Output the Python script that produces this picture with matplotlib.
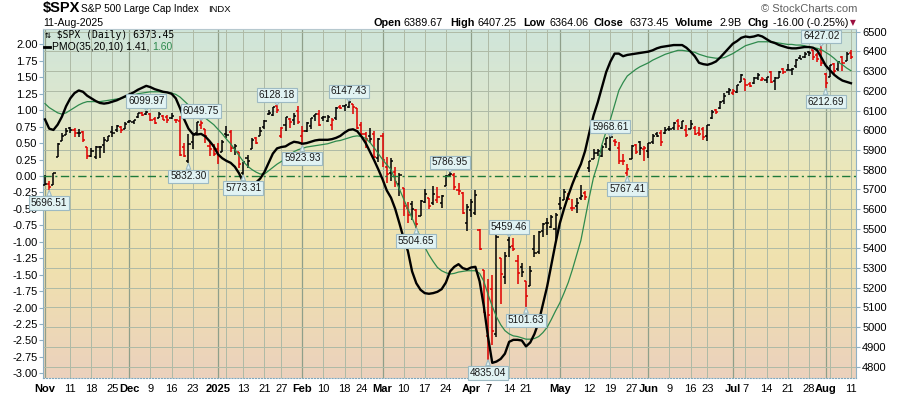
import numpy as np
import matplotlib.pyplot as plt
from matplotlib.colors import LinearSegmentedColormap
from matplotlib.lines import Line2D

plt.rcParams['font.family'] = ['Liberation Sans', 'DejaVu Sans']

# trading days on the chart
trade_days = {
    (2024, 11): [1, 4, 5, 6, 7, 8, 11, 12, 13, 14, 15, 18, 19, 20, 21, 22, 25, 26, 27, 29],
    (2024, 12): [2, 3, 4, 5, 6, 9, 10, 11, 12, 13, 16, 17, 18, 19, 20, 23, 24, 26, 27, 30, 31],
    (2025, 1): [2, 3, 6, 7, 8, 10, 13, 14, 15, 16, 17, 21, 22, 23, 24, 27, 28, 29, 30, 31],
    (2025, 2): [3, 4, 5, 6, 7, 10, 11, 12, 13, 14, 18, 19, 20, 21, 24, 25, 26, 27, 28],
    (2025, 3): [3, 4, 5, 6, 7, 10, 11, 12, 13, 14, 17, 18, 19, 20, 21, 24, 25, 26, 27, 28, 31],
    (2025, 4): [1, 2, 3, 4, 7, 8, 9, 10, 11, 14, 15, 16, 17, 21, 22, 23, 24, 25, 28, 29, 30],
    (2025, 5): [1, 2, 5, 6, 7, 8, 9, 12, 13, 14, 15, 16, 19, 20, 21, 22, 23, 27, 28, 29, 30],
    (2025, 6): [2, 3, 4, 5, 6, 9, 10, 11, 12, 13, 16, 17, 18, 20, 23, 24, 25, 26, 27, 30],
    (2025, 7): [1, 2, 3, 7, 8, 9, 10, 11, 14, 15, 16, 17, 18, 21, 22, 23, 24, 25, 28, 29, 30, 31],
    (2025, 8): [1, 4, 5, 6, 7, 8, 11],
}
dates = [f"{y}-{m:02d}-{d:02d}" for (y, m), days in trade_days.items() for d in days]

opens = [
    5723.2, 5725.2, 5722.4, 5864.9, 5947.2, 5976.8, 6008.9, 6003.6, 5985.8, 5989.6, 5912.8, 5869.0, 5864.0, 5914.0, 5925.3, 5944.0, 5992.3, 6000.0, 6014.1, 6003.9,
    6040.1, 6042.0, 6069.4, 6089.3, 6081.4, 6083.0, 6057.6, 6060.2, 6074.3, 6068.2, 6063.8, 6052.6, 6047.6, 5912.7, 5842.0, 5940.3, 5984.7, 6024.9, 6006.2, 5920.7, 5919.7,
    5903.3, 5891.1, 5982.8, 5993.3, 5910.7, 5890.7, 5782.3, 5859.1, 5905.2, 5961.9, 5969.7, 6014.1, 6081.4, 6076.3, 6121.4, 5969.0, 6026.0, 6057.7, 6050.8, 6096.8,
    5969.7, 5998.1, 6020.5, 6072.2, 6083.1, 6059.7, 6049.3, 6025.1, 6060.6, 6115.5, 6121.6, 6117.8, 6134.5, 6114.1, 6026.7, 5982.7, 5970.9, 5981.9, 5856.7,
    5968.3, 5811.9, 5781.4, 5785.9, 5726.0, 5705.4, 5603.7, 5624.8, 5594.5, 5563.9, 5635.6, 5654.5, 5632.4, 5646.9, 5630.7, 5718.1, 5775.1, 5771.7, 5695.6, 5679.1, 5527.9,
    5597.5, 5580.8, 5492.7, 5292.1, 4953.8, 5193.6, 4965.3, 5353.2, 5255.6, 5441.0, 5411.9, 5335.8, 5305.5, 5232.9, 5207.7, 5395.9, 5381.4, 5489.7, 5529.0, 5508.9, 5499.4,
    5625.1, 5645.0, 5655.3, 5605.9, 5614.3, 5655.7, 5679.6, 5807.0, 5854.0, 5884.1, 5869.6, 5929.1, 5902.9, 5944.7, 5910.4, 5841.3, 5781.9, 5854.1, 5925.5, 5939.9, 5903.7,
    5896.7, 5938.6, 5978.9, 5985.7, 5987.1, 6004.6, 6009.9, 6049.4, 6009.9, 6000.6, 6004.0, 6012.1, 5987.9, 6004.2, 5969.7, 6061.2, 6104.2, 6112.1, 6150.7, 6193.4,
    6187.3, 6193.6, 6246.5, 6259.4, 6237.0, 6238.0, 6264.4, 6255.7, 6255.2, 6295.3, 6248.1, 6263.9, 6313.3, 6304.7, 6306.6, 6326.9, 6368.6, 6370.0, 6397.7, 6409.4, 6381.3, 6407.3,
    6287.3, 6271.7, 6336.2, 6309.8, 6374.3, 6351.0, 6389.67,
]
highs = [
    5772.1, 5741.4, 5783.4, 5936.1, 5983.8, 6012.5, 6017.3, 6009.9, 6008.2, 5993.9, 5915.4, 5908.1, 5920.0, 5920.7, 5963.5, 5972.9, 6020.8, 6025.4, 6020.2, 6044.2,
    6053.6, 6052.0, 6089.8, 6092.5, 6099.97, 6088.5, 6065.4, 6092.6, 6079.7, 6078.6, 6085.2, 6057.7, 6070.7, 5935.5, 5982.1, 5978.3, 6040.1, 6049.75, 6006.2, 5940.8, 5929.7,
    5935.1, 5949.3, 6021.0, 6000.7, 5927.9, 5890.7, 5838.7, 5871.9, 5960.6, 5964.7, 6014.0, 6051.5, 6100.8, 6118.7, 6128.18, 6017.2, 6069.1, 6062.8, 6086.6, 6120.9,
    6022.1, 6042.5, 6062.9, 6084.0, 6101.3, 6073.4, 6076.3, 6063.6, 6116.9, 6127.5, 6129.6, 6147.43, 6134.5, 6114.8, 6043.7, 5992.7, 6009.8, 5993.7, 5959.4,
    5986.1, 5865.1, 5860.6, 5812.1, 5783.0, 5705.4, 5636.3, 5642.2, 5597.8, 5645.3, 5703.5, 5654.5, 5715.3, 5711.2, 5670.8, 5775.1, 5786.95, 5783.6, 5732.3, 5685.9, 5627.6,
    5650.6, 5695.3, 5499.5, 5292.1, 5246.6, 5267.5, 5481.3, 5353.2, 5381.5, 5459.46, 5450.4, 5367.2, 5328.3, 5232.9, 5309.6, 5469.7, 5489.4, 5528.1, 5553.7, 5571.9, 5581.8,
    5658.9, 5700.7, 5683.7, 5649.7, 5654.4, 5720.1, 5691.7, 5844.2, 5906.6, 5906.6, 5924.2, 5958.6, 5968.61, 5953.1, 5938.4, 5878.1, 5829.5, 5924.3, 5929.0, 5943.1, 5922.1,
    5937.4, 5981.4, 5990.5, 5999.7, 6016.9, 6021.3, 6043.0, 6059.4, 6045.4, 6026.2, 6050.8, 6023.3, 6018.2, 6018.2, 6028.8, 6101.8, 6108.5, 6146.5, 6187.7, 6215.1,
    6210.8, 6227.6, 6284.7, 6262.3, 6242.7, 6269.2, 6290.2, 6269.6, 6272.3, 6302.0, 6269.0, 6302.7, 6315.6, 6336.1, 6316.1, 6360.6, 6381.3, 6395.8, 6401.1, 6409.4, 6389.8, 6427.02,
    6288.5, 6329.9, 6343.7, 6352.8, 6379.3, 6395.2, 6407.25,
]
lows = [
    5723.2, 5696.51, 5722.1, 5864.9, 5947.2, 5976.8, 5986.7, 5966.8, 5965.9, 5942.3, 5853.0, 5865.9, 5854.0, 5860.6, 5883.0, 5944.0, 5963.9, 5992.3, 5984.9, 6003.9,
    6035.3, 6033.4, 6061.1, 6070.1, 6079.0, 6048.6, 6029.9, 6060.2, 6051.2, 6035.8, 6059.1, 6035.2, 5867.8, 5866.1, 5832.3, 5902.6, 5981.4, 6007.4, 5932.9, 5869.2, 5868.9,
    5829.5, 5888.7, 5960.0, 5890.7, 5874.8, 5809.2, 5773.31, 5805.9, 5905.2, 5930.8, 5969.7, 6006.9, 6076.3, 6074.7, 6088.7, 5962.9, 5994.2, 6012.9, 6027.5, 6030.9,
    5923.93, 5990.9, 6007.1, 6046.8, 6019.9, 6048.0, 6042.3, 6003.0, 6051.0, 6107.6, 6099.5, 6111.2, 6084.6, 6008.6, 5977.8, 5908.5, 5932.7, 5858.8, 5837.7,
    5810.9, 5732.6, 5742.4, 5711.6, 5666.3, 5564.0, 5528.4, 5546.1, 5504.65, 5563.9, 5631.1, 5597.8, 5622.2, 5632.6, 5603.1, 5718.1, 5764.8, 5694.4, 5670.9, 5572.4, 5488.7,
    5558.5, 5571.5, 5390.8, 5069.9, 4835.04, 4910.4, 4948.4, 5115.3, 5220.8, 5358.0, 5386.4, 5220.8, 5255.6, 5101.63, 5207.7, 5356.0, 5371.9, 5455.9, 5468.6, 5505.7, 5433.2,
    5597.4, 5645.0, 5644.6, 5590.0, 5578.6, 5646.3, 5644.6, 5786.1, 5853.0, 5867.2, 5865.2, 5907.4, 5895.7, 5919.0, 5830.9, 5825.8, 5767.41, 5854.1, 5881.1, 5873.8, 5843.7,
    5861.4, 5929.0, 5966.1, 5921.2, 5978.6, 5994.2, 6000.3, 6002.3, 6003.9, 5963.2, 6004.0, 5974.8, 5971.9, 5952.6, 5943.2, 6058.2, 6080.1, 6107.5, 6132.4, 6177.4,
    6177.9, 6190.7, 6246.5, 6201.4, 6217.5, 6236.0, 6253.7, 6250.9, 6242.3, 6241.9, 6201.8, 6263.9, 6285.9, 6303.8, 6281.7, 6317.5, 6360.6, 6368.5, 6375.7, 6358.7, 6346.1, 6327.1,
    6212.69, 6271.7, 6281.8, 6301.1, 6300.7, 6350.7, 6364.06,
]
closes = [
    5728.8, 5712.7, 5782.8, 5929.0, 5973.1, 5995.5, 6001.4, 5984.0, 5985.4, 5949.2, 5870.6, 5893.6, 5917.0, 5917.1, 5948.7, 5969.3, 5987.4, 6021.6, 5998.7, 6032.4,
    6047.2, 6049.9, 6086.5, 6075.1, 6090.3, 6052.9, 6034.9, 6084.2, 6051.3, 6051.1, 6074.1, 6050.6, 5872.2, 5867.1, 5930.9, 5974.1, 6040.0, 6037.6, 5970.8, 5906.9, 5881.6,
    5868.6, 5942.5, 5975.4, 5909.0, 5918.3, 5827.0, 5836.2, 5842.9, 5949.9, 5937.3, 5996.7, 6049.2, 6086.4, 6118.7, 6101.2, 6012.3, 6067.7, 6039.3, 6071.2, 6040.5,
    5994.6, 6037.9, 6061.5, 6083.6, 6026.0, 6066.4, 6068.5, 6052.0, 6115.1, 6114.6, 6129.6, 6144.2, 6117.5, 6013.1, 5983.3, 5955.3, 5956.1, 5861.6, 5954.5,
    5849.7, 5778.2, 5842.6, 5738.5, 5770.2, 5614.6, 5572.1, 5599.3, 5521.5, 5638.9, 5675.1, 5614.7, 5675.3, 5662.9, 5667.6, 5767.6, 5776.7, 5712.2, 5693.3, 5580.9, 5611.9,
    5633.1, 5671.0, 5396.5, 5074.1, 5062.3, 4982.8, 5456.9, 5268.1, 5363.4, 5406.0, 5396.6, 5275.7, 5282.7, 5158.2, 5287.8, 5375.9, 5484.8, 5525.2, 5528.8, 5560.8, 5569.1,
    5604.1, 5686.7, 5650.4, 5606.9, 5631.3, 5663.9, 5659.9, 5844.2, 5886.6, 5892.6, 5916.9, 5958.4, 5963.6, 5940.5, 5844.6, 5842.0, 5802.8, 5921.5, 5888.6, 5912.2, 5911.7,
    5935.9, 5970.4, 5970.8, 5939.3, 6000.4, 6005.9, 6038.8, 6022.2, 6045.3, 5977.0, 6033.1, 5982.7, 5980.9, 5967.8, 6025.2, 6092.18, 6092.16, 6141.0, 6173.1, 6205.0,
    6198.0, 6227.4, 6279.4, 6230.0, 6225.5, 6263.3, 6280.5, 6259.8, 6268.6, 6243.8, 6263.7, 6297.4, 6296.8, 6305.6, 6309.6, 6358.9, 6363.4, 6388.6, 6389.8, 6370.9, 6362.9, 6339.4,
    6238.0, 6329.9, 6299.2, 6345.1, 6340.0, 6389.5, 6373.45,
]

# PMO(35,20,10) and its signal line
pmo = [
    0.86, 0.72, 0.70, 0.78, 0.90, 1.06, 1.18, 1.26, 1.30, 1.28,
    1.22, 1.18, 1.14, 1.11, 1.10, 1.11, 1.13, 1.15, 1.18, 1.21,
    1.24, 1.27, 1.31, 1.34, 1.37, 1.35, 1.32, 1.30, 1.28, 1.27,
    1.25, 1.18, 1.03, 0.86, 0.72, 0.64, 0.63, 0.64, 0.60, 0.53,
    0.45, 0.33, 0.27, 0.23, 0.20, 0.14, 0.04, -0.10, -0.18, -0.17,
    -0.10, -0.04, 0.06, 0.20, 0.34, 0.42, 0.44, 0.45, 0.49, 0.52,
    0.51, 0.49, 0.50, 0.52, 0.54, 0.55, 0.55, 0.55, 0.56, 0.58,
    0.61, 0.66, 0.70, 0.71, 0.68, 0.60, 0.50, 0.37, 0.24, 0.10,
    -0.05, -0.22, -0.33, -0.50, -0.72, -0.95, -1.14, -1.45, -1.63, -1.73,
    -1.78, -1.79, -1.78, -1.76, -1.72, -1.62, -1.45, -1.38, -1.34, -1.40,
    -1.42, -1.39, -1.38, -1.60, -1.98, -2.45, -2.84, -2.82, -2.78, -2.70,
    -2.52, -2.49, -2.49, -2.50, -2.59, -2.53, -2.40, -2.22, -1.95, -1.68,
    -1.35, -1.02, -0.72, -0.50, -0.30, -0.12, 0.04, 0.18, 0.38, 0.66,
    0.92, 1.12, 1.35, 1.58, 1.74, 1.86, 1.86, 1.82, 1.84, 1.85,
    1.86, 1.87, 1.88, 1.89, 1.91, 1.94, 1.96, 1.97, 1.98, 1.99,
    1.99, 1.99, 1.95, 1.89, 1.82, 1.72, 1.70, 1.69, 1.71, 1.74,
    1.80, 1.87, 1.94, 2.01, 2.05, 2.10, 2.12, 2.11, 2.12, 2.14,
    2.12, 2.08, 2.04, 2.02, 1.99, 1.97, 1.95, 1.94, 1.94, 1.95,
    1.96, 1.96, 1.95, 1.91, 1.80, 1.68, 1.61, 1.54, 1.49, 1.45,
    1.43, 1.41,
]
pmo_signal = [
    1.10, 1.04, 1.00, 0.96, 0.94, 0.96, 1.00, 1.04, 1.08, 1.11,
    1.13, 1.13, 1.13, 1.13, 1.14, 1.15, 1.16, 1.17, 1.18, 1.20,
    1.21, 1.23, 1.25, 1.26, 1.27, 1.28, 1.28, 1.28, 1.27, 1.27,
    1.26, 1.24, 1.20, 1.14, 1.08, 1.03, 0.99, 0.94, 0.88, 0.83,
    0.78, 0.71, 0.64, 0.56, 0.49, 0.40, 0.31, 0.22, 0.15, 0.10,
    0.06, 0.03, 0.03, 0.08, 0.13, 0.18, 0.22, 0.27, 0.32, 0.37,
    0.40, 0.42, 0.44, 0.45, 0.46, 0.47, 0.48, 0.49, 0.51, 0.53,
    0.54, 0.56, 0.58, 0.60, 0.61, 0.60, 0.57, 0.51, 0.43, 0.34,
    0.25, 0.17, 0.10, -0.06, -0.20, -0.35, -0.50, -0.64, -0.79, -0.94,
    -1.08, -1.20, -1.30, -1.39, -1.44, -1.47, -1.49, -1.48, -1.46, -1.45,
    -1.44, -1.44, -1.44, -1.48, -1.60, -1.80, -1.98, -2.14, -2.26, -2.35,
    -2.40, -2.43, -2.44, -2.46, -2.48, -2.48, -2.47, -2.44, -2.38, -2.30,
    -2.18, -2.05, -1.93, -1.78, -1.62, -1.42, -1.20, -0.98, -0.65, -0.32,
    -0.02, 0.18, 0.48, 0.68, 0.86, 1.08, 1.30, 1.42, 1.52, 1.57,
    1.62, 1.66, 1.69, 1.72, 1.76, 1.79, 1.82, 1.85, 1.87, 1.89,
    1.91, 1.91, 1.90, 1.89, 1.88, 1.85, 1.83, 1.81, 1.80, 1.79,
    1.79, 1.80, 1.83, 1.86, 1.90, 1.94, 1.98, 2.00, 2.02, 2.04,
    2.04, 2.04, 2.04, 2.03, 2.02, 2.01, 2.00, 2.00, 1.99, 1.99,
    1.98, 1.96, 1.95, 1.94, 1.92, 1.88, 1.84, 1.79, 1.73, 1.69,
    1.64, 1.60,
]

# x-axis labels
tick_dates = ["2024-11-01", "2024-11-11", "2024-11-18", "2024-11-25", "2024-12-02", "2024-12-09",
              "2024-12-16", "2024-12-23", "2025-01-02", "2025-01-13", "2025-01-21", "2025-01-27",
              "2025-02-03", "2025-02-10", "2025-02-18", "2025-02-24", "2025-03-03", "2025-03-10",
              "2025-03-17", "2025-03-24", "2025-04-01", "2025-04-07", "2025-04-14", "2025-04-21",
              "2025-05-01", "2025-05-12", "2025-05-19", "2025-05-27", "2025-06-02", "2025-06-09",
              "2025-06-16", "2025-06-23", "2025-07-01", "2025-07-07", "2025-07-14", "2025-07-21",
              "2025-07-28", "2025-08-01", "2025-08-11"]
tick_texts = ["Nov", "11", "18", "25", "Dec", "9", "16", "23", "2025", "13", "21", "27",
              "Feb", "10", "18", "24", "Mar", "10", "17", "24", "Apr", "7", "14", "21",
              "May", "12", "19", "27", "Jun", "9", "16", "23", "Jul", "7", "14", "21", "28",
              "Aug", "11"]
unlabeled_weeks = ["2025-01-06", "2025-04-28", "2025-08-04"]

# high / low callouts
ann_dates = ["2024-11-04", "2024-12-06", "2024-12-20", "2024-12-26", "2025-01-13", "2025-01-24",
             "2025-02-03", "2025-02-19", "2025-03-13", "2025-03-25", "2025-04-07", "2025-04-14",
             "2025-04-21", "2025-05-19", "2025-05-23", "2025-07-31", "2025-08-01"]
ann_values = [5696.51, 6099.97, 5832.30, 6049.75, 5773.31, 6128.18, 5923.93, 6147.43, 5504.65,
              5786.95, 4835.04, 5459.46, 5101.63, 5968.61, 5767.41, 6427.02, 6212.69]
ann_side = ["low", "high", "low", "high", "low", "high", "low", "high", "low",
            "high", "low", "high", "low", "high", "low", "high", "low"]

x = np.arange(len(dates))
bar_colors = ['black'] + ['black' if closes[k] >= closes[k - 1] else '#e00000'
                          for k in range(1, len(closes))]

fig = plt.figure(figsize=(9, 3.96), dpi=100)
ax = fig.add_axes([43 / 900, 18 / 396, 813 / 900, 349 / 396])

bg = LinearSegmentedColormap.from_list(
    'bg', [(0, '#cfe5da'), (0.2, '#dce7cf'), (0.43, '#eee8b7'), (0.68, '#f0e1ae'), (1, '#ebd1bd')])
ax.imshow(np.linspace(0, 1, 256).reshape(-1, 1), cmap=bg, aspect='auto', extent=[0, 1, 0, 1],
          transform=ax.transAxes, origin='upper', zorder=0)

ax.set_xlim(-0.47, 192.2)
ax.set_ylim(4742, 6514)

price_ticks = np.arange(4800, 6501, 100)
ax.set_yticks(price_ticks)
ax.set_yticklabels([str(v) for v in price_ticks])
ax.grid(axis='y', color='#aebaa6', lw=0.7, zorder=1)

tick_idx = [dates.index(d) for d in tick_dates]
for i, t in zip(tick_idx, tick_texts):
    month = not t.isdigit() or len(t) == 4
    ax.axvline(i, color='#8f9f8a' if month else '#aebaa6', lw=0.9 if month else 0.7, zorder=1)
for d in unlabeled_weeks:
    ax.axvline(dates.index(d), color='#aebaa6', lw=0.7, zorder=1)

ax.set_xticks(tick_idx)
ax.set_xticklabels(tick_texts)
for lbl, t in zip(ax.get_xticklabels(), tick_texts):
    if not t.isdigit() or len(t) == 4:
        lbl.set_fontweight('bold')
ax.tick_params(axis='x', length=0, labelsize=8, pad=4)

# OHLC bars
ax.vlines(x, lows, highs, colors=bar_colors, lw=1.1, zorder=3)
ax.hlines(opens, x - 0.5, x, colors=bar_colors, lw=1.1, zorder=3)
ax.hlines(closes, x, x + 0.5, colors=bar_colors, lw=1.1, zorder=3)

# PMO panel on the same area, left scale
axp = ax.twinx()
axp.set_ylim(-3.07, 2.234)
pmo_ticks = np.arange(-3.0, 2.01, 0.25)
axp.set_yticks(pmo_ticks)
axp.set_yticklabels([f"{v:.2f}" for v in pmo_ticks])
axp.axhline(0, color='#1f7a3a', lw=1.0, ls=(0, (6, 2.5, 1.5, 2.5)), zorder=2)
axp.plot(x, pmo_signal, color='#2e8a4d', lw=0.9, zorder=3)
axp.plot(x, pmo, color='black', lw=1.7, zorder=4)

ax.yaxis.tick_right()
axp.yaxis.tick_left()
ax.tick_params(axis='y', right=True, left=False, length=3, color='#8fb0c4', labelsize=8, pad=1.5)
axp.tick_params(axis='y', left=True, right=False, length=3, color='#8fb0c4', labelsize=8, pad=1)

for s in axp.spines.values():
    s.set_visible(False)
ax.spines['left'].set_color('#8fb0c4')
ax.spines['right'].set_color('#8fb0c4')
ax.spines['top'].set_color('#b6c8cf')
ax.spines['bottom'].set_color('#7fa6bc')
ax.spines['bottom'].set_linestyle(':')

box_fc, box_ec = '#e1f3f3', '#9dbac3'
for d, v, side in zip(ann_dates, ann_values, ann_side):
    i = dates.index(d)
    off = 7 if side == 'high' else -9.5
    axp.annotate(f"{v:.2f}", xy=(i, v), xycoords=ax.transData, xytext=(0, off),
                 textcoords='offset points', ha='center', va='center', fontsize=7.2,
                 color='#1a1a1a', zorder=6,
                 bbox=dict(boxstyle='square,pad=0.18', fc=box_fc, ec=box_ec, lw=0.8),
                 arrowprops=dict(arrowstyle='wedge,tail_width=0.45', fc=box_fc, ec=box_ec,
                                 lw=0.8, shrinkA=0, shrinkB=0))


def ftxt(px, py, s, **kw):
    fig.text(px / 900, 1 - py / 396, s, va='center', **kw)


# header
ftxt(43, 8, "$SPX", fontsize=10.5, fontweight='bold')
ftxt(81, 9, "S&P 500 Large Cap Index", fontsize=7.3)
ftxt(208, 9, "INDX", fontsize=6.8)
ftxt(857, 9, "© StockCharts.com", fontsize=8, color='#606060', ha='right')
ftxt(43, 23, "11-Aug-2025", fontsize=7.6)
header = [(373, "Open", True), (403, "6389.67", False), (450, "High", True), (478, "6407.25", False),
          (523, "Low", True), (549, "6364.06", False), (594, "Close", True), (629, "6373.45", False),
          (675, "Volume", True), (720, "2.9B", False), (748, "Chg", True),
          (773, "-16.00 (-0.25%)", False)]
for px, s, b in header:
    ftxt(px, 23, s, fontsize=7.8, fontweight='bold' if b else 'normal')
ftxt(850, 23, "▼", fontsize=5.5, color='#9b1040', family=['DejaVu Sans'])

# legend inside the plot
ftxt(45, 35, "⇅ $SPX (Daily) 6373.45", fontsize=7, family=['DejaVu Sans Mono', 'DejaVu Sans'])
fig.add_artist(Line2D([44 / 900, 50 / 900], [1 - 47 / 396] * 2, color='black', lw=2))
ftxt(52, 47, "PMO(35,20,10) 1.41,", fontsize=7.5)
ftxt(152, 47, "1.60", fontsize=7.5, color='#2e8a4d')

fig.savefig('out.png', dpi=100)
